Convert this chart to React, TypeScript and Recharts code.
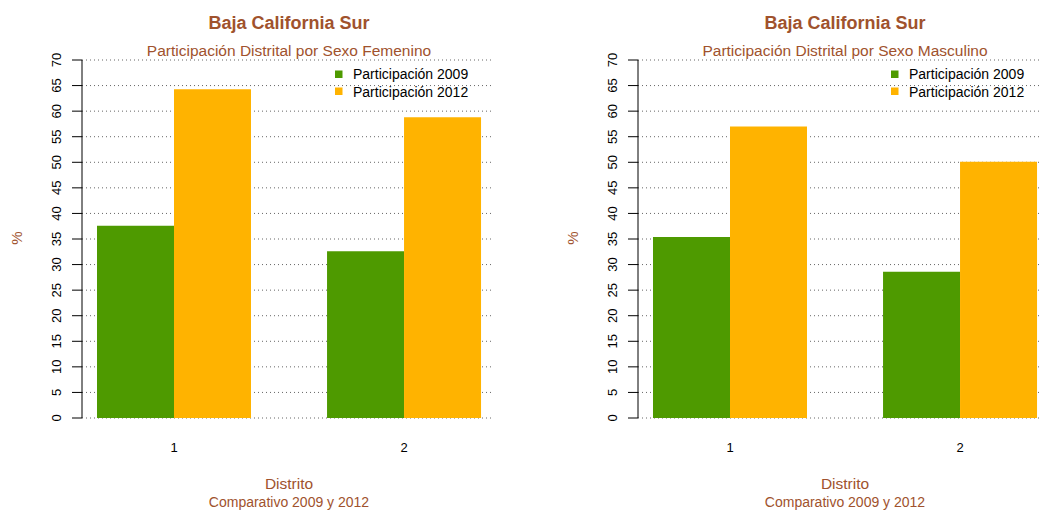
import React from 'react';
import { BarChart, Bar, XAxis, YAxis, CartesianGrid } from 'recharts';

// district numbers on the x axis
const districts = [1, 2];
// participation by district, in %
const femenino2009 = [37.6, 32.6];
const femenino2012 = [64.3, 58.8];
const masculino2009 = [35.4, 28.6];
const masculino2012 = [57.0, 50.1];
const yTicks = [0, 5, 10, 15, 20, 25, 30, 35, 40, 45, 50, 55, 60, 65, 70];

const GREEN = '#4E9A00';
const ORANGE = '#FFB300';
const BROWN = '#A0522D';
const FONT = '"Liberation Sans", Arial, sans-serif';

const YTick = (props: any) => {
  const { x, y, payload } = props;
  return (
    <text
      transform={`translate(${61},${y}) rotate(-90)`}
      textAnchor="middle"
      fontSize={13}
      fontFamily={FONT}
      fill="#000"
    >
      {payload.value}
    </text>
  );
};

const XTick = (props: any) => {
  const { x, payload } = props;
  return (
    <text x={x} y={452} textAnchor="middle" fontSize={13} fontFamily={FONT} fill="#000">
      {payload.value}
    </text>
  );
};

const Panel: React.FC<{ subtitle: string; v2009: number[]; v2012: number[] }> = ({ subtitle, v2009, v2012 }) => {
  const data = districts.map((d, i) => ({ d, p2009: v2009[i], p2012: v2012[i] }));
  const cx = 289;
  return (
    <div style={{ position: 'relative', width: 556, height: 510, flex: 'none' }}>
      <BarChart
        width={556}
        height={510}
        data={data}
        margin={{ top: 60, right: 62, bottom: 62, left: 22 }}
        barGap={0}
      >
        <CartesianGrid horizontal vertical={false} stroke="#666" strokeDasharray="1 3" />
        <XAxis
          dataKey="d"
          type="number"
          domain={[0.6, 2.391]}
          ticks={districts}
          axisLine={false}
          tickLine={false}
          height={30}
          tick={<XTick />}
        />
        <YAxis
          domain={[0, 70]}
          ticks={yTicks}
          width={60}
          interval={0}
          tickSize={10}
          axisLine={{ stroke: '#000' }}
          tickLine={{ stroke: '#000' }}
          tick={<YTick />}
        />
        <Bar dataKey="p2009" fill={GREEN} barSize={77} isAnimationActive={false} />
        <Bar dataKey="p2012" fill={ORANGE} barSize={77} isAnimationActive={false} />
      </BarChart>
      <svg width={556} height={510} style={{ position: 'absolute', left: 0, top: 0, pointerEvents: 'none' }}>
        <g fontFamily={FONT}>
          <text x={cx} y={29} textAnchor="middle" fontSize={18} fontWeight="bold" fill={BROWN}>
            Baja California Sur
          </text>
          <text x={cx} y={56} textAnchor="middle" fontSize={15.5} fill={BROWN}>
            {subtitle}
          </text>
          <text transform="translate(22,238) rotate(-90)" textAnchor="middle" fontSize={15} fill={BROWN}>
            %
          </text>
          <text x={cx} y={489} textAnchor="middle" fontSize={15.5} fill={BROWN}>
            Distrito
          </text>
          <text x={cx} y={507} textAnchor="middle" fontSize={14} fill={BROWN}>
            Comparativo 2009 y 2012
          </text>
          <rect x={335} y={70.5} width={7.5} height={7.5} fill={GREEN} />
          <text x={353} y={79} fontSize={14} fill="#000">
            Participación 2009
          </text>
          <rect x={335} y={87.5} width={7.5} height={7.5} fill={ORANGE} />
          <text x={353} y={96.5} fontSize={14} fill="#000">
            Participación 2012
          </text>
        </g>
      </svg>
    </div>
  );
};

export default function App() {
  return (
    <div
      style={{
        position: 'absolute',
        left: 0,
        top: 0,
        width: 1040,
        height: 510,
        overflow: 'hidden',
        background: '#fff',
        display: 'flex',
      }}
    >
      <Panel subtitle="Participación Distrital por Sexo Femenino" v2009={femenino2009} v2012={femenino2012} />
      <Panel subtitle="Participación Distrital por Sexo Masculino" v2009={masculino2009} v2012={masculino2012} />
    </div>
  );
}
